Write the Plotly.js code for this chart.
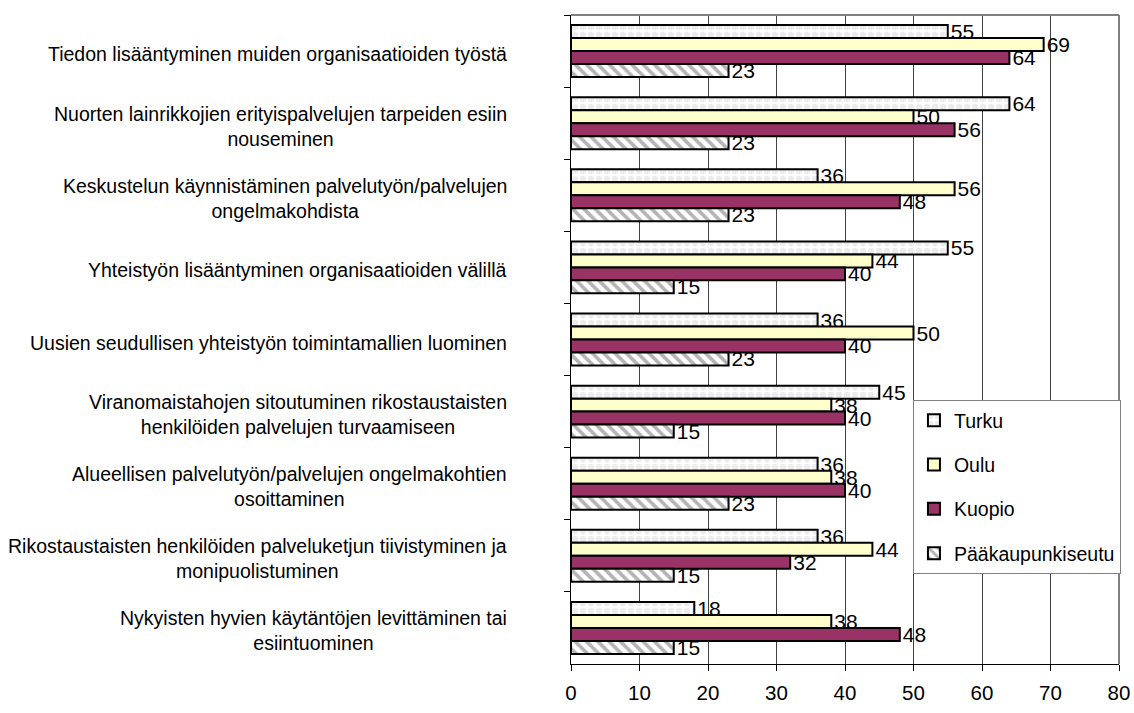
<!DOCTYPE html>
<html>
<head>
<meta charset="utf-8">
<script src="https://cdn.plot.ly/plotly-3.0.1.min.js"></script>
<style>html,body{margin:0;padding:0;background:#fff;}#chart{width:1134px;height:713px;}</style>
</head>
<body>
<div id="chart"></div>
<script>
var categories = [
  "Tiedon lisääntyminen muiden organisaatioiden työstä",
  "Nuorten lainrikkojien erityispalvelujen tarpeiden esiin<br>nouseminen",
  "Keskustelun käynnistäminen palvelutyön/palvelujen<br>ongelmakohdista",
  "Yhteistyön lisääntyminen organisaatioiden välillä",
  "Uusien seudullisen yhteistyön toimintamallien luominen",
  "Viranomaistahojen sitoutuminen rikostaustaisten<br>henkilöiden palvelujen turvaamiseen",
  "Alueellisen palvelutyön/palvelujen ongelmakohtien<br>osoittaminen",
  "Rikostaustaisten henkilöiden palveluketjun tiivistyminen ja<br>monipuolistuminen",
  "Nykyisten hyvien käytäntöjen levittäminen tai<br>esiintuominen"
];
var seriesNames = ["Turku", "Oulu", "Kuopio", "Pääkaupunkiseutu"];
var turku = [55, 64, 36, 55, 36, 45, 36, 36, 18];
var oulu = [69, 50, 56, 44, 50, 38, 38, 44, 38];
var kuopio = [64, 56, 48, 40, 40, 40, 40, 32, 48];
var paakaupunkiseutu = [23, 23, 23, 15, 23, 15, 23, 15, 15];
var xTicks = [0, 10, 20, 30, 40, 50, 60, 70, 80];

var FONT = "Liberation Sans, Arial, sans-serif";
var seriesValues = [turku, oulu, kuopio, paakaupunkiseutu];
var markers = [
  {color: "#ffffff", line: {color: "#000", width: 2},
   pattern: {shape: ".", fgcolor: "#ececec", bgcolor: "#ffffff", size: 8, solidity: 0.5}},
  {color: "#ffffcc", line: {color: "#000", width: 2}},
  {color: "#993366", line: {color: "#000", width: 2}},
  {color: "#ffffff", line: {color: "#000", width: 2},
   pattern: {shape: "\\", fgcolor: "#b4b4b4", bgcolor: "#ffffff", size: 8, solidity: 0.45}}
];

var traces = seriesNames.map(function (name, i) {
  return {
    type: "bar",
    orientation: "h",
    name: name,
    legendgroup: name,
    x: seriesValues[i],
    y: categories,
    marker: markers[i],
    text: seriesValues[i].map(String),
    textposition: "outside",
    constraintext: "none",
    cliponaxis: false,
    textfont: {family: FONT, size: 21, color: "#000"},
    hoverinfo: "x+name"
  };
});

var annotations = categories.map(function (c) {
  return {
    xref: "paper", yref: "y", x: 0, y: c,
    xanchor: "right", yanchor: "middle", align: "center",
    xshift: -62, yshift: -3,
    text: c, showarrow: false,
    font: {family: FONT, size: 19.5, color: "#000"}
  };
});

var layout = {
  width: 1134, height: 713,
  margin: {l: 571, r: 15, t: 15, b: 49, pad: 0, autoexpand: false},
  paper_bgcolor: "#fff", plot_bgcolor: "#fff",
  barmode: "group", bargap: 0.28, bargroupgap: 0,
  showlegend: true,
  legend: {
    x: 0.624, y: 0.4068, xanchor: "left", yanchor: "top",
    bgcolor: "#fff", bordercolor: "#808080", borderwidth: 1,
    traceorder: "grouped", tracegroupgap: 16,
    font: {family: FONT, size: 19.5, color: "#000"},
    itemwidth: 30
  },
  xaxis: {
    range: [0, 80], tickvals: xTicks, ticktext: xTicks.map(String),
    showgrid: true, gridcolor: "#404040", gridwidth: 1,
    zeroline: false, showline: true, linecolor: "#000", linewidth: 1,
    ticks: "outside", ticklen: 6, tickcolor: "#000",
    ticklabelstandoff: 4,
    tickfont: {family: FONT, size: 20.5, color: "#000"}, fixedrange: true
  },
  yaxis: {
    type: "category", categoryorder: "array", categoryarray: categories,
    autorange: "reversed",
    showticklabels: false, showgrid: false, zeroline: false,
    showline: true, linecolor: "#000", linewidth: 1,
    ticks: "outside", ticklen: 6, tickcolor: "#000", tickson: "boundaries",
    fixedrange: true
  },
  shapes: [
    {type: "line", xref: "paper", yref: "paper", x0: 0, x1: 1, y0: 1, y1: 1,
     line: {color: "#808080", width: 2}},
    {type: "line", xref: "paper", yref: "paper", x0: 1, x1: 1, y0: 0, y1: 1,
     line: {color: "#808080", width: 2}}
  ],
  annotations: annotations,
  font: {family: FONT, color: "#000"}
};

Plotly.newPlot("chart", traces, layout, {displayModeBar: false, staticPlot: true});
</script>
</body>
</html>
